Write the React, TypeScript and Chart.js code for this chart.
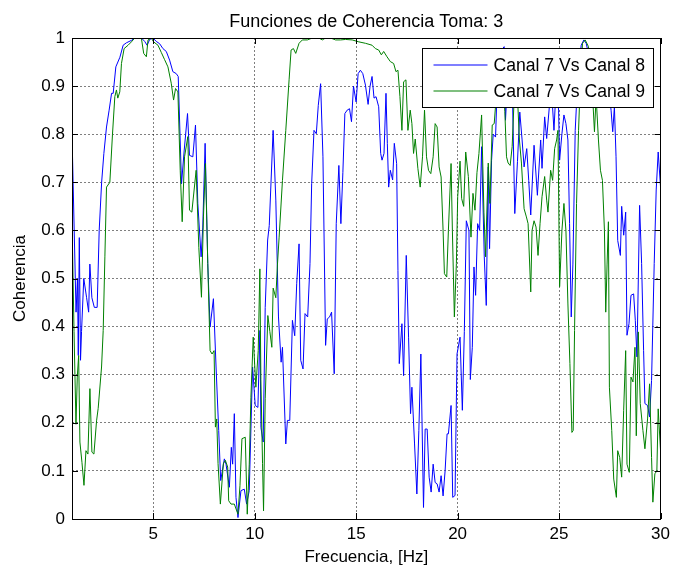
import { useEffect, useRef } from "react";
import { Chart, registerables } from "chart.js";

Chart.register(...registerables);

const FONT = '"Liberation Sans", Arial, Helvetica, sans-serif';
const TITLE = "Funciones de Coherencia Toma: 3";
const X_LABEL = "Frecuencia, [Hz]";
const Y_LABEL = "Coherencia";
const SERIES_LABELS = ["Canal 7 Vs Canal 8", "Canal 7 Vs Canal 9"];
const SERIES_COLORS = ["#0000ff", "#008000"];
const X_MIN = 1;
const X_MAX = 30;
const X_TICKS = [5, 10, 15, 20, 25, 30];
const Y_TICKS = [0, 0.1, 0.2, 0.3, 0.4, 0.5, 0.6, 0.7, 0.8, 0.9, 1];

// Canal 7 vs Canal 8
const freq8 = [
  1.0, 1.2, 1.27, 1.31, 1.36, 1.42, 1.47, 1.58, 1.72, 1.82, 1.88, 1.98, 2.1, 2.24, 2.34, 2.46, 2.57, 2.7, 2.83, 2.95,
  3.03, 3.16, 3.36, 3.52, 3.68, 3.93, 4.09, 4.42, 4.58, 4.7, 4.83, 4.99, 5.15, 5.32, 5.48, 5.645, 5.81, 5.97, 6.135, 6.234,
  6.397, 6.53, 6.692, 6.79, 6.954, 7.085, 7.2, 7.362, 7.444, 7.559, 7.69, 7.804, 7.968, 8.098, 8.229, 8.327, 8.507, 8.589, 8.753, 8.851,
  8.916, 8.998, 9.08, 9.178, 9.325, 9.489, 9.603, 9.734, 9.898, 10.028, 10.16, 10.26, 10.31, 10.42, 10.52, 10.64, 10.72, 10.91, 11.043, 11.174,
  11.305, 11.37, 11.534, 11.615, 11.73, 11.861, 11.975, 12.073, 12.188, 12.27, 12.384, 12.482, 12.613, 12.727, 12.809, 12.924, 13.038, 13.136, 13.25, 13.365,
  13.496, 13.578, 13.692, 13.79, 13.921, 14.02, 14.15, 14.249, 14.347, 14.445, 14.559, 14.674, 14.772, 14.87, 15.0, 15.099, 15.21, 15.328, 15.459, 15.59,
  15.687, 15.785, 15.883, 15.981, 16.112, 16.21, 16.276, 16.374, 16.472, 16.538, 16.603, 16.685, 16.799, 16.881, 16.996, 17.061, 17.126, 17.257, 17.339, 17.47,
  17.584, 17.683, 17.748, 17.879, 17.993, 18.091, 18.19, 18.32, 18.402, 18.5, 18.598, 18.697, 18.795, 18.893, 18.991, 19.089, 19.187, 19.285, 19.384, 19.482,
  19.547, 19.678, 19.76, 19.874, 19.972, 20.12, 20.234, 20.332, 20.43, 20.56, 20.627, 20.725, 20.807, 20.888, 20.987, 21.085, 21.183, 21.314, 21.412, 21.51,
  21.575, 21.674, 21.755, 21.87, 21.935, 22.066, 22.164, 22.295, 22.36, 22.459, 22.59, 22.688, 22.818, 22.95, 23.064, 23.178, 23.276, 23.407, 23.505, 23.604,
  23.767, 23.931, 24.094, 24.16, 24.29, 24.389, 24.52, 24.618, 24.749, 24.863, 24.977, 25.027, 25.141, 25.239, 25.338, 25.436, 25.517, 25.6, 25.681, 25.795,
  25.894, 25.992, 26.09, 26.221, 26.335, 26.45, 26.581, 26.71, 26.826, 26.94, 27.071, 27.235, 27.366, 27.48, 27.562, 27.644, 27.726, 27.807, 27.889, 28.02,
  28.085, 28.184, 28.282, 28.347, 28.445, 28.543, 28.674, 28.756, 28.838, 28.968, 29.067, 29.165, 29.23, 29.361, 29.459, 29.557, 29.688, 29.786, 29.884, 30.0,
];
const coh8 = [
  0.8, 0.43, 0.5, 0.34, 0.585, 0.33, 0.39, 0.5, 0.46, 0.43, 0.53, 0.46, 0.44, 0.44, 0.6, 0.7, 0.76, 0.815, 0.85, 0.885,
  0.885, 0.94, 0.96, 0.985, 0.99, 0.995, 1.0, 1.0, 0.993, 0.985, 0.997, 1.0, 0.993, 0.988, 0.978, 0.972, 0.954, 0.93, 0.926, 0.92,
  0.697, 0.767, 0.843, 0.756, 0.753, 0.819, 0.656, 0.545, 0.607, 0.781, 0.531, 0.399, 0.458, 0.316, 0.184, 0.08, 0.125, 0.114, 0.066, 0.149,
  0.114, 0.219, 0.045, 0.003, 0.059, 0.062, 0.031, 0.059, 0.316, 0.236, 0.232, 0.392, 0.19, 0.16, 0.44, 0.58, 0.61, 0.808, 0.663, 0.42,
  0.326, 0.357, 0.156, 0.205, 0.205, 0.413, 0.381, 0.49, 0.572, 0.33, 0.312, 0.427, 0.42, 0.531, 0.697, 0.808, 0.801, 0.86, 0.905, 0.753,
  0.361, 0.416, 0.42, 0.43, 0.302, 0.614, 0.735, 0.614, 0.72, 0.843, 0.85, 0.853, 0.826, 0.9, 0.867, 0.926, 0.933, 0.926, 0.902, 0.862,
  0.9, 0.92, 0.875, 0.878, 0.857, 0.76, 0.746, 0.76, 0.885, 0.781, 0.69, 0.725, 0.705, 0.781, 0.739, 0.517, 0.323, 0.406, 0.298, 0.548,
  0.378, 0.219, 0.274, 0.156, 0.052, 0.184, 0.343, 0.024, 0.187, 0.187, 0.087, 0.056, 0.114, 0.076, 0.073, 0.056, 0.09, 0.048, 0.1, 0.177,
  0.177, 0.236, 0.045, 0.049, 0.343, 0.378, 0.226, 0.39, 0.62, 0.6, 0.29, 0.357, 0.524, 0.465, 0.614, 0.6, 0.774, 0.545, 0.444, 0.732,
  0.562, 0.746, 0.8, 0.794, 0.878, 0.947, 0.975, 0.982, 0.829, 0.913, 0.94, 0.913, 0.635, 0.743, 0.846, 0.788, 0.732, 0.77, 0.704, 0.632,
  0.777, 0.673, 0.788, 0.729, 0.836, 0.791, 0.857, 0.899, 0.808, 0.906, 0.85, 0.746, 0.801, 0.84, 0.822, 0.788, 0.614, 0.42, 0.53, 0.808,
  0.892, 0.947, 0.985, 0.996, 0.989, 0.968, 0.94, 0.92, 0.933, 0.902, 0.899, 0.906, 0.899, 0.878, 0.85, 0.805, 0.857, 0.753, 0.579, 0.548,
  0.65, 0.59, 0.638, 0.382, 0.406, 0.465, 0.468, 0.413, 0.337, 0.652, 0.531, 0.35, 0.24, 0.236, 0.212, 0.288, 0.531, 0.684, 0.763, 0.69,
];

// Canal 7 vs Canal 9
const freq9 = [
  1.0, 1.1, 1.196, 1.26, 1.327, 1.39, 1.49, 1.59, 1.687, 1.785, 1.883, 1.981, 2.08, 2.21, 2.29, 2.456, 2.537, 2.62, 2.7, 2.865,
  2.995, 3.11, 3.19, 3.257, 3.355, 3.437, 3.568, 3.764, 3.928, 4.09, 4.418, 4.533, 4.664, 4.745, 4.91, 5.02, 5.236, 5.4, 5.563, 5.727,
  5.89, 6.005, 6.103, 6.218, 6.332, 6.43, 6.545, 6.708, 6.79, 6.905, 7.117, 7.248, 7.379, 7.477, 7.575, 7.69, 7.804, 7.902, 8.0, 8.066,
  8.131, 8.197, 8.311, 8.458, 8.556, 8.671, 8.72, 8.835, 8.998, 9.178, 9.276, 9.374, 9.538, 9.636, 9.734, 9.816, 9.93, 10.06, 10.176, 10.257,
  10.307, 10.389, 10.438, 10.52, 10.65, 10.748, 10.847, 10.912, 11.043, 11.125, 11.206, 11.37, 11.534, 11.697, 11.795, 11.91, 12.024, 12.188, 12.351, 12.597,
  12.842, 13.169, 13.333, 13.496, 13.742, 13.987, 14.232, 14.478, 14.805, 15.132, 15.459, 15.785, 15.949, 16.112, 16.243, 16.358, 16.521, 16.685, 16.848, 16.963,
  17.061, 17.159, 17.257, 17.339, 17.454, 17.552, 17.666, 17.748, 17.83, 17.912, 18.042, 18.157, 18.271, 18.37, 18.468, 18.566, 18.68, 18.795, 18.893, 18.991,
  19.089, 19.187, 19.285, 19.35, 19.465, 19.547, 19.678, 19.743, 19.841, 19.94, 20.005, 20.12, 20.2, 20.3, 20.4, 20.529, 20.66, 20.758, 20.856, 20.954,
  21.052, 21.183, 21.297, 21.379, 21.51, 21.592, 21.706, 21.804, 21.903, 22.0, 22.132, 22.23, 22.328, 22.41, 22.49, 22.59, 22.688, 22.818, 22.95, 23.047,
  23.146, 23.276, 23.39, 23.473, 23.604, 23.669, 23.767, 23.865, 23.963, 24.062, 24.16, 24.29, 24.389, 24.454, 24.585, 24.683, 24.781, 24.879, 24.945, 25.027,
  25.141, 25.239, 25.338, 25.436, 25.534, 25.632, 25.697, 25.763, 25.861, 25.96, 26.057, 26.155, 26.286, 26.45, 26.58, 26.662, 26.744, 26.826, 26.94, 27.039,
  27.137, 27.235, 27.3, 27.366, 27.431, 27.48, 27.595, 27.693, 27.824, 27.889, 27.987, 28.085, 28.183, 28.282, 28.347, 28.461, 28.543, 28.641, 28.74, 28.805,
  28.903, 29.0, 29.132, 29.23, 29.36, 29.459, 29.557, 29.622, 29.72, 29.819, 29.884, 30.0,
];
const coh9 = [
  0.62, 0.39, 0.197, 0.295, 0.34, 0.16, 0.118, 0.07, 0.142, 0.135, 0.271, 0.139, 0.135, 0.204, 0.23, 0.316, 0.392, 0.545, 0.69, 0.7,
  0.8, 0.878, 0.892, 0.875, 0.888, 0.947, 0.978, 0.985, 0.992, 1.0, 1.0, 0.968, 0.961, 0.996, 1.0, 0.992, 0.985, 0.97, 0.955, 0.94,
  0.906, 0.871, 0.895, 0.888, 0.725, 0.618, 0.753, 0.795, 0.642, 0.638, 0.725, 0.565, 0.461, 0.628, 0.739, 0.531, 0.35, 0.343, 0.35, 0.191,
  0.208, 0.115, 0.031, 0.115, 0.122, 0.108, 0.038, 0.031, 0.031, 0.01, 0.069, 0.167, 0.17, 0.01, 0.114, 0.253, 0.378, 0.274, 0.35, 0.52,
  0.29, 0.115, 0.017, 0.25, 0.423, 0.39, 0.357, 0.48, 0.46, 0.53, 0.586, 0.704, 0.808, 0.913, 0.975, 0.978, 0.968, 0.989, 0.996, 0.996,
  1.0, 1.0, 0.996, 1.0, 1.0, 0.996, 0.996, 0.997, 0.996, 0.992, 0.989, 0.985, 0.978, 0.975, 0.965, 0.972, 0.961, 0.951, 0.947, 0.93,
  0.933, 0.878, 0.808, 0.909, 0.913, 0.808, 0.85, 0.822, 0.76, 0.79, 0.729, 0.69, 0.753, 0.85, 0.753, 0.725, 0.718, 0.753, 0.822, 0.815,
  0.732, 0.711, 0.6, 0.51, 0.503, 0.6, 0.739, 0.6, 0.42, 0.531, 0.67, 0.744, 0.666, 0.65, 0.763, 0.712, 0.586, 0.677, 0.642, 0.72,
  0.76, 0.84, 0.638, 0.545, 0.74, 0.656, 0.819, 0.822, 0.878, 0.913, 0.947, 0.926, 0.847, 0.753, 0.74, 0.735, 0.774, 0.905, 0.878, 0.788,
  0.74, 0.645, 0.628, 0.614, 0.472, 0.6, 0.62, 0.607, 0.548, 0.614, 0.67, 0.712, 0.663, 0.638, 0.725, 0.704, 0.77, 0.788, 0.808, 0.483,
  0.6, 0.656, 0.6, 0.447, 0.323, 0.18, 0.184, 0.392, 0.656, 0.808, 0.92, 0.989, 0.996, 0.982, 0.913, 0.871, 0.805, 0.878, 0.788, 0.725,
  0.704, 0.6, 0.43, 0.53, 0.618, 0.274, 0.184, 0.083, 0.045, 0.142, 0.128, 0.087, 0.226, 0.35, 0.114, 0.097, 0.295, 0.285, 0.357, 0.173,
  0.389, 0.24, 0.184, 0.146, 0.208, 0.281, 0.128, 0.035, 0.094, 0.1, 0.229, 0.142,
];

const toPoints = (xs: number[], ys: number[]) => xs.map((x, i) => ({ x, y: ys[i] }));

const decorPlugin = {
  id: "matlabDecor",
  afterDraw(chart: any) {
    const { ctx, chartArea } = chart;
    const { left, right, top, bottom } = chartArea;
    const xs = chart.scales.x;
    const ys = chart.scales.y;
    ctx.save();
    ctx.setLineDash([]);
    ctx.lineWidth = 1;

    // frame
    ctx.strokeStyle = "#000000";
    ctx.strokeRect(Math.round(left) + 0.5, Math.round(top) + 0.5, Math.round(right - left) - 1, Math.round(bottom - top));

    // inward tick marks on all four sides
    ctx.beginPath();
    X_TICKS.forEach((v) => {
      const px = Math.round(xs.getPixelForValue(v)) + 0.5;
      ctx.moveTo(px, bottom);
      ctx.lineTo(px, bottom - 6);
      ctx.moveTo(px, top);
      ctx.lineTo(px, top + 6);
    });
    Y_TICKS.forEach((v) => {
      const py = Math.round(ys.getPixelForValue(v)) + 0.5;
      ctx.moveTo(left, py);
      ctx.lineTo(left + 6, py);
      ctx.moveTo(right, py);
      ctx.lineTo(right - 6, py);
    });
    ctx.stroke();

    // legend box inside the axes
    const bx = Math.round(right) - 239 + 0.5;
    const by = Math.round(top) + 10 + 0.5;
    const bw = 231;
    const bh = 59;
    ctx.fillStyle = "#ffffff";
    ctx.fillRect(bx, by, bw, bh);
    ctx.strokeStyle = "#000000";
    ctx.strokeRect(bx, by, bw, bh);
    ctx.font = `17.6px ${FONT}`;
    ctx.textBaseline = "middle";
    ctx.textAlign = "left";
    SERIES_LABELS.forEach((label, i) => {
      const ly = Math.round(by + 16 + i * 26);
      ctx.save();
      ctx.beginPath();
      ctx.lineWidth = 1.2;
      ctx.strokeStyle = SERIES_COLORS[i];
      ctx.moveTo(bx + 11, ly);
      ctx.lineTo(bx + 65, ly);
      ctx.stroke();
      ctx.restore();
      ctx.fillStyle = "#000000";
      ctx.fillText(label, bx + 71, ly + 1);
    });

    // title
    ctx.fillStyle = "#000000";
    ctx.font = `18px ${FONT}`;
    ctx.textAlign = "center";
    ctx.textBaseline = "alphabetic";
    ctx.fillText(TITLE, (left + right) / 2, top - 11);
    ctx.restore();
  },
};

export default function App() {
  const canvasRef = useRef<HTMLCanvasElement | null>(null);

  useEffect(() => {
    const canvas = canvasRef.current;
    if (!canvas) return;
    const gridColor = "rgba(0,0,0,0.5)";
    const chart = new Chart(canvas, {
      type: "line",
      data: {
        datasets: [
          {
            label: SERIES_LABELS[0],
            data: toPoints(freq8, coh8),
            borderColor: SERIES_COLORS[0],
            backgroundColor: SERIES_COLORS[0],
            borderWidth: 1,
            pointRadius: 0,
            tension: 0,
            fill: false,
            order: 1,
          },
          {
            label: SERIES_LABELS[1],
            data: toPoints(freq9, coh9),
            borderColor: SERIES_COLORS[1],
            backgroundColor: SERIES_COLORS[1],
            borderWidth: 1,
            pointRadius: 0,
            tension: 0,
            fill: false,
            order: 0,
          },
        ],
      },
      options: {
        animation: false,
        responsive: false,
        devicePixelRatio: 1,
        layout: { padding: { left: 0, right: 12, top: 38, bottom: 0 } },
        plugins: {
          legend: { display: false },
          title: { display: false },
          tooltip: { enabled: false },
        },
        scales: {
          x: {
            type: "linear",
            min: X_MIN,
            max: X_MAX,
            afterBuildTicks: (scale: any) => {
              scale.ticks = X_TICKS.map((value) => ({ value }));
            },
            afterFit: (scale: any) => {
              scale.height = 50;
            },
            grid: {
              color: gridColor,
              lineWidth: 1,
              drawTicks: false,
            },
            border: { display: false, dash: [2, 2] },
            ticks: {
              color: "#000",
              font: { family: FONT, size: 17 },
              padding: 5,
              maxRotation: 0,
              autoSkip: false,
              callback: (v: any) => String(v),
            },
            title: {
              display: true,
              text: X_LABEL,
              color: "#000",
              font: { family: FONT, size: 17 },
              padding: { top: 0, bottom: 1 },
            },
          },
          y: {
            type: "linear",
            min: 0,
            max: 1,
            afterBuildTicks: (scale: any) => {
              scale.ticks = Y_TICKS.map((value) => ({ value }));
            },
            afterFit: (scale: any) => {
              scale.width = 72;
            },
            grid: {
              color: gridColor,
              lineWidth: 1,
              drawTicks: false,
            },
            border: { display: false, dash: [2, 2] },
            ticks: {
              color: "#000",
              font: { family: FONT, size: 17 },
              padding: 7,
              autoSkip: false,
              callback: (v: any) => String(Math.round(Number(v) * 10) / 10),
            },
            title: {
              display: true,
              text: Y_LABEL,
              color: "#000",
              font: { family: FONT, size: 17 },
              padding: { top: 10, bottom: 0 },
            },
          },
        },
      },
      plugins: [decorPlugin],
    } as any);
    return () => chart.destroy();
  }, []);

  return (
    <div style={{ position: "absolute", left: 0, top: 0, width: 675, height: 569, background: "#fff" }}>
      <canvas ref={canvasRef} width={675} height={569} />
    </div>
  );
}
